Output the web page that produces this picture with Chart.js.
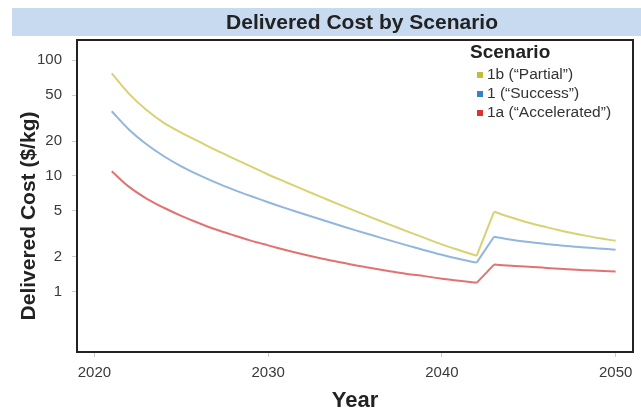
<!DOCTYPE html>
<html>
<head>
<meta charset="utf-8">
<script src="https://cdn.jsdelivr.net/npm/chart.js@4/dist/chart.umd.min.js"></script>
<style>
  html, body { margin: 0; padding: 0; background: #ffffff; }
  #wrap { width: 641px; height: 414px; position: relative; }
</style>
</head>
<body>
<div id="wrap"><canvas id="c" width="641" height="414"></canvas></div>
<script>
// Years 2021–2050
const years = [2021,2022,2023,2024,2025,2026,2027,2028,2029,2030,
               2031,2032,2033,2034,2035,2036,2037,2038,2039,2040,
               2041,2042,2043,2044,2045,2046,2047,2048,2049,2050];

// Delivered cost ($/kg) per scenario
const partial = [77.3,51.3,37.2,28.8,23.7,19.9,16.7,14.2,12.1,10.3,
                 8.87,7.66,6.62,5.74,4.99,4.34,3.79,3.32,2.91,2.56,
                 2.28,2.04,4.90,4.37,3.94,3.61,3.33,3.10,2.90,2.75];
const success = [36.3,25.1,18.8,14.8,12.1,10.2,8.75,7.62,6.70,5.93,
                 5.27,4.71,4.22,3.78,3.40,3.07,2.77,2.51,2.28,2.08,
                 1.91,1.78,2.98,2.81,2.68,2.58,2.49,2.42,2.36,2.30];
const accelerated = [11.0,8.04,6.38,5.31,4.52,3.92,3.44,3.07,2.76,2.51,
                     2.29,2.10,1.94,1.81,1.69,1.59,1.50,1.42,1.36,1.29,
                     1.24,1.19,1.71,1.67,1.64,1.60,1.57,1.54,1.51,1.49];

const scenarioNames = ['1b (\u201cPartial\u201d)', '1 (\u201cSuccess\u201d)', '1a (\u201cAccelerated\u201d)'];
const xTickValues = [2020, 2030, 2040, 2050];
const yTickValues = [1, 2, 5, 10, 20, 50, 100];

const lineColors = ['#d8d272', '#92b6de', '#e27272'];
const keyColors  = ['#c4bc34', '#3580d0', '#e03030'];

// Each curve is drawn in three pieces so the step around 2042–2043 keeps sharp corners:
// smooth decline, straight jump, smooth decline.
const pieces = [
  { from: 0,  to: 21, tension: 0.35 },
  { from: 21, to: 22, tension: 0 },
  { from: 22, to: 29, tension: 0.35 }
];

const seriesList = [partial, success, accelerated];
const datasets = [];
seriesList.forEach((series, s) => {
  pieces.forEach(p => {
    const pts = [];
    for (let i = p.from; i <= p.to; i++) pts.push({ x: years[i], y: series[i] });
    datasets.push({
      label: scenarioNames[s],
      data: pts,
      borderColor: lineColors[s],
      borderWidth: 2,
      pointRadius: 0,
      tension: p.tension,
      fill: false
    });
  });
});

// Title band across the top
const bannerPlugin = {
  id: 'banner',
  beforeDraw(chart) {
    const ctx = chart.ctx;
    ctx.save();
    ctx.fillStyle = '#c7daf0';
    ctx.fillRect(12, 8, 629, 28);
    ctx.fillStyle = '#222222';
    ctx.font = 'bold 21px "Liberation Sans", Arial, sans-serif';
    ctx.textAlign = 'center';
    ctx.textBaseline = 'middle';
    ctx.fillText('Delivered Cost by Scenario', 362, 23);
    ctx.restore();
  }
};

// Frame around the plotting area and the vertical axis title
const framePlugin = {
  id: 'frame',
  afterDatasetsDraw(chart) {
    const { left, top, right, bottom } = chart.chartArea;
    const ctx = chart.ctx;
    ctx.save();
    ctx.strokeStyle = '#222222';
    ctx.lineWidth = 2;
    ctx.strokeRect(left, top, right - left, bottom - top);
    ctx.translate(29, 216);
    ctx.rotate(-Math.PI / 2);
    ctx.fillStyle = '#222222';
    ctx.font = 'bold 21px "Liberation Sans", Arial, sans-serif';
    ctx.textAlign = 'center';
    ctx.textBaseline = 'middle';
    ctx.fillText('Delivered Cost ($/kg)', 0, 0);
    ctx.restore();
  }
};

// Key inside the upper right of the plot
const keyPlugin = {
  id: 'key',
  afterDatasetsDraw(chart) {
    const ctx = chart.ctx;
    ctx.save();
    ctx.fillStyle = '#222222';
    ctx.font = 'bold 19px "Liberation Sans", Arial, sans-serif';
    ctx.textAlign = 'left';
    ctx.textBaseline = 'middle';
    ctx.fillText('Scenario', 470, 53);
    ctx.font = '15.5px "Liberation Sans", Arial, sans-serif';
    scenarioNames.forEach((name, i) => {
      const y = 75 + i * 19;
      ctx.fillStyle = keyColors[i];
      ctx.fillRect(477, y - 3, 6, 6);
      ctx.fillStyle = '#333333';
      ctx.fillText(name, 487, y);
    });
    ctx.restore();
  }
};

new Chart(document.getElementById('c'), {
  type: 'line',
  data: { datasets },
  options: {
    responsive: false,
    animation: false,
    layout: { padding: { top: 40, right: 8, bottom: 0, left: 0 } },
    plugins: { legend: { display: false }, title: { display: false }, tooltip: { enabled: false } },
    scales: {
      x: {
        type: 'linear',
        min: 2019, max: 2051,
        afterBuildTicks: s => { s.ticks = xTickValues.map(v => ({ value: v })); },
        afterFit: s => { s.height = 62; },
        grid: { drawOnChartArea: false, tickLength: 5, tickColor: '#cccccc' },
        border: { display: false },
        ticks: { color: '#3a3a3a', font: { family: '"Liberation Sans", Arial', size: 15 }, padding: 7, maxRotation: 0,
                 callback: v => String(v) },
        title: { display: true, text: 'Year', color: '#222222',
                 font: { family: '"Liberation Sans", Arial', size: 22, weight: 'bold' }, padding: { top: 0, bottom: 0 } }
      },
      y: {
        type: 'logarithmic',
        min: 0.3, max: 150,
        afterBuildTicks: s => { s.ticks = yTickValues.map(v => ({ value: v })); },
        afterFit: s => { s.width = 77; },
        grid: { drawOnChartArea: false, tickLength: 5, tickColor: '#cccccc' },
        border: { display: false },
        ticks: { color: '#3a3a3a', font: { family: '"Liberation Sans", Arial', size: 15 }, padding: 10,
                 callback: v => String(v) }
      }
    }
  },
  plugins: [bannerPlugin, framePlugin, keyPlugin]
});
</script>
</body>
</html>
